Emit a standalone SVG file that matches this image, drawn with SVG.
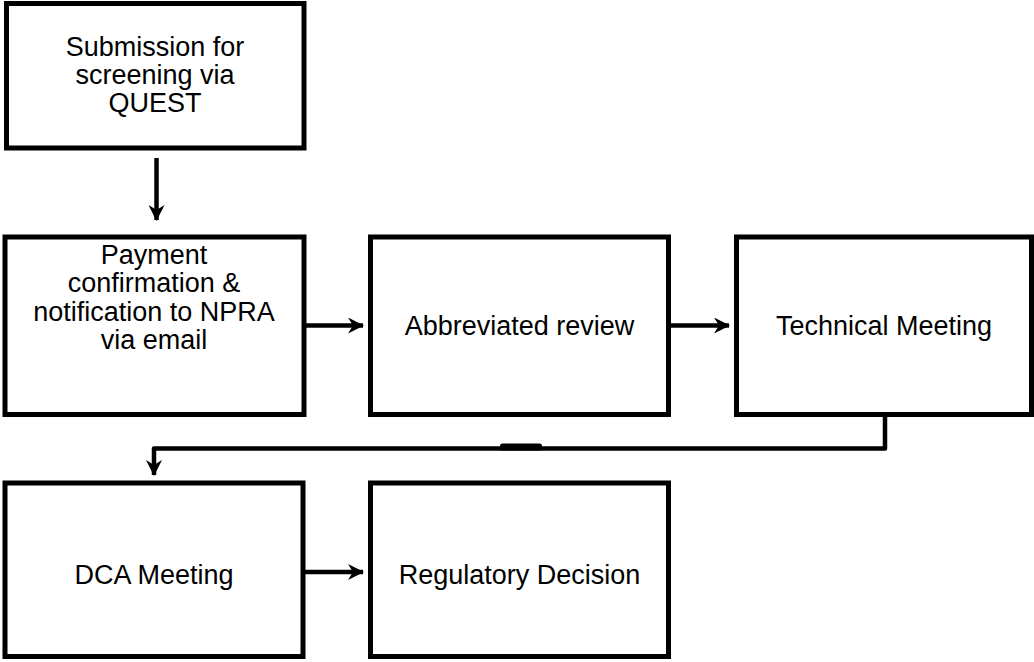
<svg xmlns="http://www.w3.org/2000/svg" width="1034" height="662" viewBox="0 0 1034 662">
<defs>
<style>
.box{fill:#fff;stroke:#000;stroke-width:5}
.lbl{font-family:"Liberation Sans",Arial,sans-serif;font-size:27px;fill:#000;text-anchor:middle}
.con{fill:none;stroke:#000;stroke-width:4.5}
</style>
<marker id="ah" viewBox="0 0 16 16" refX="15" refY="8" markerWidth="16" markerHeight="16" markerUnits="userSpaceOnUse" orient="auto">
<path d="M0,0 L16,8 L0,16 L5,8 z" fill="#000"/>
</marker>
</defs>
<rect width="1034" height="662" fill="#fff"/>
<g id="n1"><rect class="box" x="6.5" y="3.5" width="297.5" height="144.5"/>
<text class="lbl" x="155" y="56">Submission for</text><text class="lbl" x="155" y="84">screening via</text><text class="lbl" x="155" y="112">QUEST</text></g>
<g id="n2"><rect class="box" x="5" y="237" width="299" height="177.5"/>
<text class="lbl" x="154" y="264">Payment</text><text class="lbl" x="154" y="292">confirmation &amp;</text><text class="lbl" x="154" y="321">notification to NPRA</text><text class="lbl" x="154" y="349">via email</text></g>
<g id="n3"><rect class="box" x="370.5" y="237" width="298" height="177.5"/>
<text class="lbl" x="519.5" y="335">Abbreviated review</text></g>
<g id="n4"><rect class="box" x="736.5" y="237" width="295" height="177.5"/>
<text class="lbl" x="884" y="335">Technical Meeting</text></g>
<g id="n5"><rect class="box" x="5" y="483" width="298" height="173.5"/>
<text class="lbl" x="154" y="584">DCA Meeting</text></g>
<g id="n6"><rect class="box" x="370.5" y="483" width="298" height="173.5"/>
<text class="lbl" x="519.5" y="584">Regulatory Decision</text></g>
<g id="connectors">
<path class="con" d="M156.5,158 L156.5,220" marker-end="url(#ah)"/>
<path class="con" d="M304,325.5 L363,325.5" marker-end="url(#ah)"/>
<path class="con" d="M668.5,325.5 L729,325.5" marker-end="url(#ah)"/>
<path class="con" d="M885,414.5 L885,448.5 L154,448.5 L154,475" stroke-linejoin="round" marker-end="url(#ah)"/>
<rect x="500" y="443.5" width="42" height="7" rx="2.5" fill="#000"/>
<path class="con" d="M303,572 L363,572" marker-end="url(#ah)"/>
</g>
</svg>
